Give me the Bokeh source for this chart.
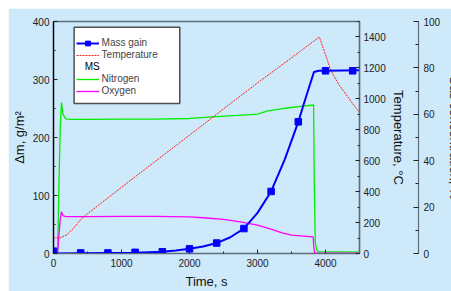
from jinja2 import Template
from bokeh.plotting import figure
from bokeh.models import (Range1d, LinearAxis, FixedTicker, Legend, LegendItem,
                          Label, SingleIntervalTicker, BoxAnnotation)
from bokeh.embed import file_html
from bokeh.resources import INLINE

# ---------------- data ----------------
# Mass gain (g/m^2) markers
mass_t = [0, 400, 800, 1200, 1600, 2000, 2400, 2800, 3200, 3600, 4000, 4400]
mass_v = [4, 1, 1, 2, 3, 8, 18, 43, 107, 227, 315, 315]
# Mass gain curve
mass_line_t = [0, 400, 800, 1200, 1600, 1800, 2000, 2200, 2400, 2600, 2800, 3000,
               3200, 3400, 3600, 3700, 3830, 3900, 4000, 4500]
mass_line_v = [0, 0.5, 1, 1.5, 3, 5, 8, 12, 18, 28, 43, 70,
               107, 162, 227, 265, 313, 315, 315, 316]
# Temperature (deg C)
temp_t = [0, 100, 200, 300, 400, 500, 700, 1000, 1500, 2000, 2500, 3000, 3500,
          3910, 4000, 4080, 4200, 4300, 4400, 4500]
temp_v = [100, 102, 122, 165, 220, 257, 325, 428, 597, 765, 935, 1103, 1265,
          1400, 1285, 1182, 1090, 1030, 968, 912]
# Nitrogen (%)
n2_t = [0, 60, 80, 100, 117, 140, 180, 250, 500, 1000, 1500, 2000, 2400, 2700,
        3000, 3150, 3400, 3700, 3825, 3835, 3850, 3870, 3900, 4500]
n2_v = [0, 0, 30, 55, 65, 60, 58, 57.8, 57.8, 57.9, 57.9, 58.2, 59, 59.5,
        60.1, 61.5, 62.6, 63.6, 64, 30, 5, 1.5, 0.8, 0.6]
# Oxygen (%)
o2_t = [0, 60, 80, 100, 117, 140, 180, 500, 1000, 1500, 2000, 2200, 2500, 2750,
        3000, 3200, 3350, 3500, 3818, 3828, 3840, 4500]
o2_v = [0, 0, 8, 15, 18, 16.3, 15.9, 15.9, 16, 16, 15.8, 15.4, 14.7, 13.6,
        12.2, 10.5, 9.0, 7.9, 7.2, 3, 0.2, 0.2]

legend_labels = ["Mass gain", "Temperature", "MS", "Nitrogen", "Oxygen"]
x_ticks_interval = 1000
left_ticks_interval = 100
temp_ticks_interval = 200
gas_ticks_interval = 20

# ---------------- style ----------------
BG = "#cde9fa"
FRAME = "#5f6d7b"
FONT = "Liberation Sans"

# the original chart is cut at its right edge (the last axis title runs off)
p = figure(width=457, height=283, x_range=Range1d(0, 4500), y_range=Range1d(0, 400),
           output_backend="svg", toolbar_location=None,
           min_border_left=45, min_border_right=106, min_border_top=13, min_border_bottom=36,
           background_fill_color=BG, border_fill_color=BG)
p.margin = (8, 0, 0, 8)
p.extra_y_ranges = {"temp": Range1d(0, 1500), "gas": Range1d(0, 100)}
p.grid.visible = False
p.outline_line_color = FRAME
p.outline_line_width = 1.5


def style_axis(ax, line_color, label_size="13px"):
    ax.axis_line_color = line_color
    ax.axis_line_width = 1.2
    ax.major_tick_in = 4
    ax.major_tick_out = 0
    ax.minor_tick_in = 2
    ax.minor_tick_out = 0
    ax.major_tick_line_color = "#222222"
    ax.minor_tick_line_color = "#222222"
    ax.major_label_text_font = FONT
    ax.major_label_text_font_size = "10px"
    ax.major_label_text_color = "#222222"
    ax.axis_label_text_font = FONT
    ax.axis_label_text_font_size = label_size
    ax.axis_label_text_font_style = "normal"
    ax.axis_label_text_color = "#111111"


xax = p.xaxis[0]
xax.ticker = SingleIntervalTicker(interval=x_ticks_interval, num_minor_ticks=2)
xax.axis_label = "Time, s"
style_axis(xax, FRAME)
xax.major_label_standoff = 5
xax.axis_label_standoff = 4

yax = p.yaxis[0]
yax.ticker = SingleIntervalTicker(interval=left_ticks_interval, num_minor_ticks=2)
yax.axis_label = "Δm, g/m²"
style_axis(yax, "#000000")
yax.major_label_standoff = 4
yax.axis_label_standoff = 3

temp_axis = LinearAxis(y_range_name="temp", axis_label="Temperature, °C",
                       ticker=SingleIntervalTicker(interval=temp_ticks_interval, num_minor_ticks=2))
style_axis(temp_axis, FRAME)
temp_axis.major_label_standoff = 4
temp_axis.axis_label_standoff = 2
p.add_layout(temp_axis, "right")

spacer = LinearAxis(y_range_name="gas", ticker=FixedTicker(ticks=[]), axis_line_color=None,
                    axis_label="|", axis_label_text_alpha=0, axis_label_text_font_size="6.5px",
                    axis_label_standoff=0, major_tick_out=0, minor_tick_out=0,
                    major_tick_in=0, minor_tick_in=0)
p.add_layout(spacer, "right")

gas_axis = LinearAxis(y_range_name="gas", axis_label="Gas concentration, %",
                      ticker=SingleIntervalTicker(interval=gas_ticks_interval, num_minor_ticks=2))
style_axis(gas_axis, FRAME)
gas_axis.major_tick_in = 5
gas_axis.minor_tick_in = 3
gas_axis.major_label_standoff = 5
gas_axis.axis_label_standoff = 4
p.add_layout(gas_axis, "right")

# ---------------- series ----------------
r_n2 = p.line(n2_t, n2_v, y_range_name="gas", line_color="#00ee00", line_width=1.3)
r_o2 = p.line(o2_t, o2_v, y_range_name="gas", line_color="#ff00ff", line_width=1.3)
r_temp = p.line(temp_t, temp_v, y_range_name="temp", line_color="#ff1a1a",
                line_width=1, line_dash="2 1")
r_mass_line = p.line(mass_line_t, mass_line_v, line_color="#0000ff", line_width=2)
r_mass_pts = p.scatter(mass_t, mass_v, marker="square", size=6.5,
                       fill_color="#0000ff", line_color="#0000ff")
r_dummy = p.line([], [], line_alpha=0)

# legend box (white, framed), drawn under a transparent legend
p.add_layout(BoxAnnotation(left=303, right=1857, top=390, bottom=258.7,
                           fill_color="white", fill_alpha=1,
                           line_color="#505050", line_width=1.5, line_alpha=1))
p.add_layout(Label(x=460, y=322.7, text=legend_labels[2], text_font=FONT,
                   text_font_size="10px", text_baseline="middle", text_align="left",
                   text_color="#000000"))

legend = Legend(items=[
    LegendItem(label=legend_labels[0], renderers=[r_mass_line, r_mass_pts]),
    LegendItem(label=legend_labels[1], renderers=[r_temp]),
    LegendItem(label=" ", renderers=[r_dummy]),
    LegendItem(label=legend_labels[3], renderers=[r_n2]),
    LegendItem(label=legend_labels[4], renderers=[r_o2]),
], location=(22.6, 156.4), padding=8, spacing=0, glyph_width=23, glyph_height=12,
    label_height=12, label_width=60, label_standoff=3, label_text_font=FONT,
    label_text_font_size="10px", border_line_color=None,
    background_fill_alpha=0, margin=0)
p.add_layout(legend)

page = Template("""{% extends base %}
{% block preamble %}<style>html, body { overflow: hidden; }</style>{% endblock %}""")

open("out.html", "w").write(file_html(p, INLINE, template=page))
